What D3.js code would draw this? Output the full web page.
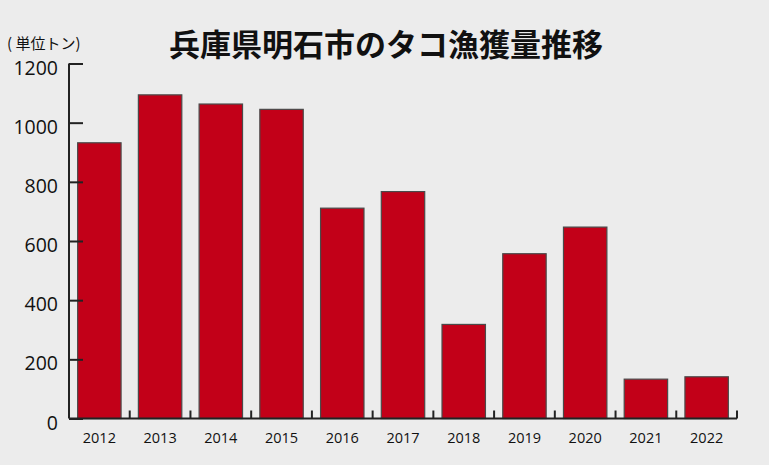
<!DOCTYPE html>
<html><head><meta charset="utf-8">
<script src="https://cdn.jsdelivr.net/npm/d3@7/dist/d3.min.js"></script>
<style>
html,body{margin:0;padding:0;background:#ececec;}
svg{display:block;}
</style></head>
<body>
<svg id="c" width="769" height="465"></svg>
<script>
const years = ["2012","2013","2014","2015","2016","2017","2018","2019","2020","2021","2022"];
const catchTons = [932, 1094, 1063, 1045, 711, 767, 318, 557, 647, 133, 141];
const yTicks = [0, 200, 400, 600, 800, 1000, 1200];
const titleText = "兵庫県明石市のタコ漁獲量推移";
const unitText = "( 単位トン)";

const svg = d3.select("#c");
const W = 769, H = 465;
svg.append("rect").attr("width", W).attr("height", H).attr("fill", "#ececec");

const x0 = 69, x1 = 737, yTop = 63.5, yBot = 418.5;
const x = d3.scaleBand().domain(years).range([x0, x1]).paddingInner(0.285).paddingOuter(0.1425);
const y = d3.scaleLinear().domain([0, 1200]).range([yBot, yTop]);

const jp = "'Noto Sans CJK JP', 'Noto Sans', sans-serif";
const num = "'Open Sans', 'Noto Sans', sans-serif";

// title
svg.append("text").attr("x", 386).attr("y", 56).attr("text-anchor", "middle")
  .attr("font-family", jp).attr("font-weight", "bold").attr("font-size", 31)
  .attr("fill", "#111").text(titleText);
svg.append("text").attr("x", 7).attr("y", 49)
  .attr("font-family", jp).attr("font-size", 15).attr("fill", "#111").text(unitText);

// bars
svg.append("g").selectAll("rect").data(years).join("rect")
  .attr("x", d => x(d)).attr("width", x.bandwidth())
  .attr("y", (d, i) => y(catchTons[i]))
  .attr("height", (d, i) => yBot - y(catchTons[i]))
  .attr("fill", "#c20018").attr("stroke", "#4a4a4a").attr("stroke-width", 1.2);

// y axis
const yAxis = d3.axisRight(y).tickValues(yTicks).tickSize(14).tickFormat("");
const gy = svg.append("g").attr("transform", `translate(${x0},0)`).call(yAxis);
gy.select(".domain").remove();
gy.selectAll(".tick line").attr("stroke", "#222").attr("stroke-width", 2);
svg.append("line").attr("x1", x0).attr("x2", x0).attr("y1", yTop).attr("y2", yBot)
  .attr("stroke", "#222").attr("stroke-width", 2);
svg.append("g").selectAll("text").data(yTicks).join("text")
  .attr("x", 58).attr("y", d => y(d) + 11).attr("text-anchor", "end")
  .attr("font-family", num).attr("font-size", 19.5).attr("fill", "#111").text(d => d);

// x axis
svg.append("line").attr("x1", x0).attr("x2", x1).attr("y1", yBot).attr("y2", yBot)
  .attr("stroke", "#222").attr("stroke-width", 2);
const bounds = years.map(d => x(d) - x.step() * x.paddingInner() / 2).slice(1).concat([x1]);
svg.append("g").selectAll("line").data(bounds).join("line")
  .attr("x1", d => d).attr("x2", d => d).attr("y1", yBot).attr("y2", yBot - 8)
  .attr("stroke", "#222").attr("stroke-width", 2);
const xAxis = d3.axisBottom(x).tickSize(0);
const gx = svg.append("g").attr("transform", `translate(0,${yBot})`).call(xAxis);
gx.select(".domain").remove();
gx.selectAll("text").attr("font-family", num).attr("font-size", 14.5).attr("fill", "#111").attr("dy", "1.5em");
</script>
</body></html>
